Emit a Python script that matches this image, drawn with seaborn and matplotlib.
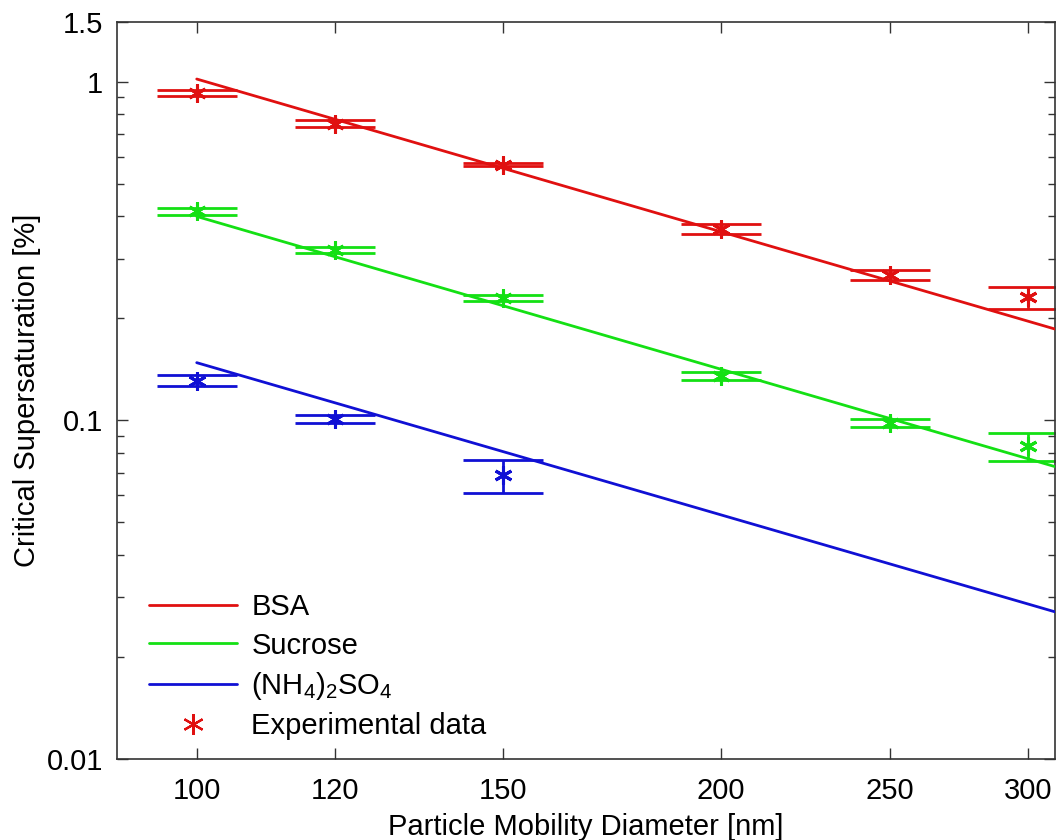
import pandas as pd
import seaborn as sns
import matplotlib.pyplot as plt
from matplotlib.ticker import FixedLocator, FixedFormatter, LogLocator, NullLocator, NullFormatter
from matplotlib.lines import Line2D

# ---------------------
# data
# ---------------------
diameters = [100, 120, 150, 200, 250, 300]

bsa = [0.927, 0.751, 0.569, 0.367, 0.268, 0.231]
bsa_lo = [0.908, 0.734, 0.562, 0.355, 0.259, 0.213]
bsa_hi = [0.946, 0.768, 0.577, 0.380, 0.278, 0.248]

sucrose = [0.414, 0.319, 0.229, 0.135, 0.0983, 0.0840]
sucrose_lo = [0.4045, 0.3116, 0.2245, 0.1316, 0.0956, 0.0759]
sucrose_hi = [0.4242, 0.3260, 0.2339, 0.1390, 0.1010, 0.0918]

amsulf_d = [100, 120, 150]
amsulf = [0.131, 0.101, 0.0690]
amsulf_lo = [0.1266, 0.0982, 0.0610]
amsulf_hi = [0.1362, 0.1037, 0.0763]

# fitted power-law lines (end points)
fit_d = [100, 311]
bsa_fit = [1.018, 0.186]
sucrose_fit = [0.400, 0.0730]
amsulf_fit = [0.148, 0.0272]

labels = ['BSA', 'Sucrose', r'(NH$_4$)$_2$SO$_4$']
colors = {'BSA': '#e01010', 'Sucrose': '#14e014', r'(NH$_4$)$_2$SO$_4$': '#1010d4'}

x_ticks = [100, 120, 150, 200, 250, 300]
y_ticks = [0.01, 0.1, 1, 1.5]
y_ticklabels = ['0.01', '0.1', '1', '1.5']

# ---------------------
# style
# ---------------------
sns.set_style('ticks')
plt.rcParams['font.family'] = ['Liberation Sans', 'DejaVu Sans']
plt.rcParams['text.color'] = 'black'
plt.rcParams['axes.labelcolor'] = 'black'
plt.rcParams['mathtext.fontset'] = 'custom'
plt.rcParams['mathtext.rm'] = 'Liberation Sans'
plt.rcParams['mathtext.it'] = 'Liberation Sans:italic'
plt.rcParams['mathtext.default'] = 'regular'

FS = 21

fig = plt.figure(figsize=(10.6, 8.4), dpi=100)
ax = fig.add_axes([0.1104, 0.0964, 0.8849, 0.8774])

# fit lines
fits = pd.DataFrame({
    'd': fit_d * 3,
    'sc': bsa_fit + sucrose_fit + amsulf_fit,
    'material': [labels[0]] * 2 + [labels[1]] * 2 + [labels[2]] * 2,
})
sns.lineplot(data=fits, x='d', y='sc', hue='material', palette=colors,
             linewidth=2.0, legend=False, ax=ax, zorder=3)

# experimental points with error bars
series = [
    (diameters, bsa, bsa_lo, bsa_hi, labels[0]),
    (diameters, sucrose, sucrose_lo, sucrose_hi, labels[1]),
    (amsulf_d, amsulf, amsulf_lo, amsulf_hi, labels[2]),
]
for d, v, lo, hi, name in series:
    err = [[a - b for a, b in zip(v, lo)], [b - a for a, b in zip(v, hi)]]
    ax.errorbar(d, v, yerr=err, fmt='none', ecolor=colors[name],
                elinewidth=2.0, capsize=29, capthick=2.0, zorder=2)
    ax.plot(d, v, linestyle='none', marker=(6, 2, 0), markersize=13,
            markeredgewidth=2.2, color=colors[name], zorder=4)

ax.set_xscale('log')
ax.set_yscale('log')
ax.set_xlim(90, 311)
ax.set_ylim(0.01, 1.5)

ax.xaxis.set_major_locator(FixedLocator(x_ticks))
ax.xaxis.set_major_formatter(FixedFormatter([str(t) for t in x_ticks]))
ax.xaxis.set_minor_locator(NullLocator())
ax.yaxis.set_major_locator(FixedLocator(y_ticks))
ax.yaxis.set_major_formatter(FixedFormatter(y_ticklabels))
ax.yaxis.set_minor_locator(LogLocator(base=10, subs=[2, 3, 4, 5, 6, 7, 8, 9]))
ax.yaxis.set_minor_formatter(NullFormatter())

ax.tick_params(which='both', direction='in', top=True, right=True,
               colors='#333333', labelcolor='black', labelsize=FS)
ax.tick_params(axis='x', pad=13)
ax.tick_params(axis='y', pad=10)
ax.tick_params(which='major', length=8, width=1)
ax.tick_params(which='minor', length=5, width=1)
for sp in ax.spines.values():
    sp.set_color('#333333')
    sp.set_linewidth(1.2)

ax.set_xlabel('Particle Mobility Diameter [nm]', fontsize=FS, labelpad=6)
ax.set_ylabel('Critical Supersaturation [%]', fontsize=FS, labelpad=4)

handles = [Line2D([], [], color=colors[n], linewidth=2.0) for n in labels]
handles.append(Line2D([], [], linestyle='none', marker=(6, 2, 0), markersize=15,
                      markeredgewidth=1.6, color=colors[labels[0]]))
ax.legend(handles, labels + ['Experimental data'], loc='lower left', frameon=False,
          fontsize=FS, handlelength=3.0, handletextpad=0.5, labelspacing=0.35,
          borderaxespad=0.0, bbox_to_anchor=(0.022, 0.01))

fig.savefig('out.png', dpi=100)
